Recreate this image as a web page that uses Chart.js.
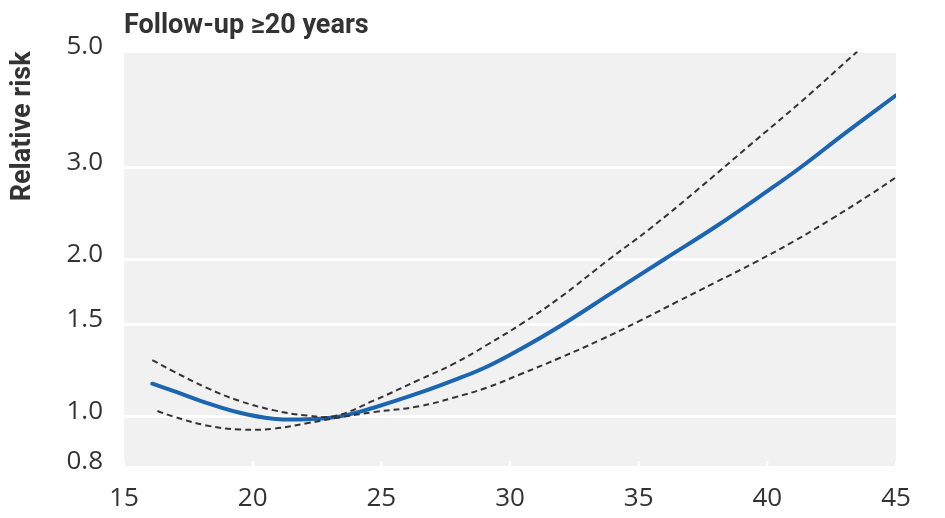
<!DOCTYPE html>
<html>
<head>
<meta charset="utf-8">
<script src="https://cdn.jsdelivr.net/npm/chart.js@4"></script>
<style>
  html, body { margin: 0; padding: 0; background: #ffffff; }
  #wrap { width: 945px; height: 518px; }
</style>
</head>
<body>
<div id="wrap"><canvas id="chart-risk"></canvas></div>
<script>
'use strict';

// BMI (x) and relative risk values
var bmiMain = [16.1, 17, 18, 19.5, 20.8, 22.1, 23.4, 24.7, 26.5, 27.8, 29.1, 30.4, 32, 34, 36, 38, 40, 41.3, 43, 45];
var rrMain = [1.155, 1.115, 1.07, 1.016, 0.99, 0.987, 1.0, 1.039, 1.11, 1.172, 1.245, 1.345, 1.495, 1.73, 2.0, 2.31, 2.70, 3.0, 3.48, 4.12];

var bmiUpper = [16.1, 16.9, 18.2, 19.5, 20.8, 22.1, 23.2, 24.7, 26.5, 27.8, 29.1, 30.5, 31.95, 33.8, 35.45, 37.4, 39.3, 41.3, 43.5];
var rrUpper = [1.282, 1.221, 1.135, 1.070, 1.028, 1.004, 1.002, 1.072, 1.177, 1.26, 1.37, 1.51, 1.69, 1.99, 2.29, 2.746, 3.30, 4.0, 5.0];

var bmiLower = [16.3, 16.9, 18.2, 19.5, 20.8, 22.1, 23.4, 24.7, 26.5, 27.8, 29.1, 30.4, 31.95, 33.5, 35, 36.5, 38, 39.5, 41, 42.5, 44, 45];
var rrLower = [1.024, 1.0, 0.961, 0.944, 0.947, 0.970, 0.996, 1.019, 1.046, 1.086, 1.135, 1.204, 1.295, 1.40, 1.52, 1.658, 1.807, 1.97, 2.16, 2.39, 2.66, 2.87];

var yTicks = [0.8, 1.0, 1.5, 2.0, 3.0, 5.0];
var xTicks = [15, 20, 25, 30, 35, 40, 45];

var toPoints = function(xs, ys) {
    var pts = [];
    for (var i = 0; i < xs.length; i++) {
        pts.push({ x: xs[i], y: ys[i] });
    }
    return pts;
};

// grey panel behind the plot
var plotBackground = {
    id: 'plotBackground',
    beforeDraw: function(chart) {
        var a = chart.chartArea;
        var c = chart.ctx;
        c.save();
        c.fillStyle = '#f1f1f1';
        c.fillRect(a.left, a.top, a.right - a.left, a.bottom - a.top);
        c.restore();
    }
};

// short white tick marks pointing up into the panel
var innerTicks = {
    id: 'innerTicks',
    beforeDatasetsDraw: function(chart) {
        var a = chart.chartArea;
        var c = chart.ctx;
        var xs = chart.scales.x;
        c.save();
        c.strokeStyle = '#ffffff';
        c.lineWidth = 2;
        xTicks.forEach(function(v) {
            var px = xs.getPixelForValue(v);
            c.beginPath();
            c.moveTo(px, a.bottom);
            c.lineTo(px, a.bottom - 6);
            c.stroke();
        });
        c.restore();
    }
};

var tickFont = { family: '"Open Sans", sans-serif', size: 26 };
var boldFont = { family: 'Roboto, sans-serif', size: 27, weight: 'bold' };

var ctx_risk = document.getElementById('chart-risk').getContext('2d');

var chart_risk = new Chart(ctx_risk, {
    type: 'line',
    data: {
        datasets: [{
                label: 'Upper CI',
                data: toPoints(bmiUpper, rrUpper),
                borderColor: '#333333',
                borderWidth: 2,
                borderDash: [6, 4],
                pointRadius: 0,
                tension: 0.4
            },
            {
                label: 'Lower CI',
                data: toPoints(bmiLower, rrLower),
                borderColor: '#333333',
                borderWidth: 2,
                borderDash: [6, 4],
                pointRadius: 0,
                tension: 0.4
            },
            {
                label: 'Relative risk',
                data: toPoints(bmiMain, rrMain),
                borderColor: '#1c65b0',
                borderWidth: 4,
                borderCapStyle: 'round',
                pointRadius: 0,
                tension: 0.4
            }
        ]
    },
    options: {
        responsive: true,
        maintainAspectRatio: false,
        animation: false,
        layout: {
            padding: { left: 0, right: 49, top: 0, bottom: 0 }
        },
        plugins: {
            legend: { display: false },
            tooltip: { enabled: false },
            title: {
                display: true,
                text: 'Follow-up \u226520 years',
                align: 'start',
                fullSize: false,
                color: '#333333',
                font: boldFont,
                padding: { top: 10, bottom: 9 }
            }
        },
        scales: {
            x: {
                type: 'linear',
                min: 15,
                max: 45,
                afterBuildTicks: function(scale) {
                    scale.ticks = xTicks.map(function(v) { return { value: v }; });
                },
                afterFit: function(scale) {
                    scale.height = 51;
                },
                grid: { display: false },
                border: { display: false },
                ticks: {
                    color: '#333333',
                    font: tickFont,
                    padding: 8,
                    maxRotation: 0
                }
            },
            y: {
                type: 'logarithmic',
                min: 0.8,
                max: 5.0,
                afterBuildTicks: function(scale) {
                    scale.ticks = yTicks.map(function(v) { return { value: v }; });
                },
                afterFit: function(scale) {
                    scale.width = 124;
                },
                grid: {
                    drawTicks: false,
                    color: '#ffffff',
                    lineWidth: 3
                },
                border: { display: false },
                ticks: {
                    color: '#333333',
                    font: tickFont,
                    padding: 21,
                    labelOffset: -5,
                    callback: function(value) {
                        return Number(value).toFixed(1);
                    }
                },
                title: {
                    display: true,
                    text: 'Relative risk',
                    align: 'end',
                    color: '#333333',
                    font: boldFont,
                    padding: { top: 7, bottom: 0 }
                }
            }
        }
    },
    plugins: [plotBackground, innerTicks]
});
</script>
</body>
</html>
